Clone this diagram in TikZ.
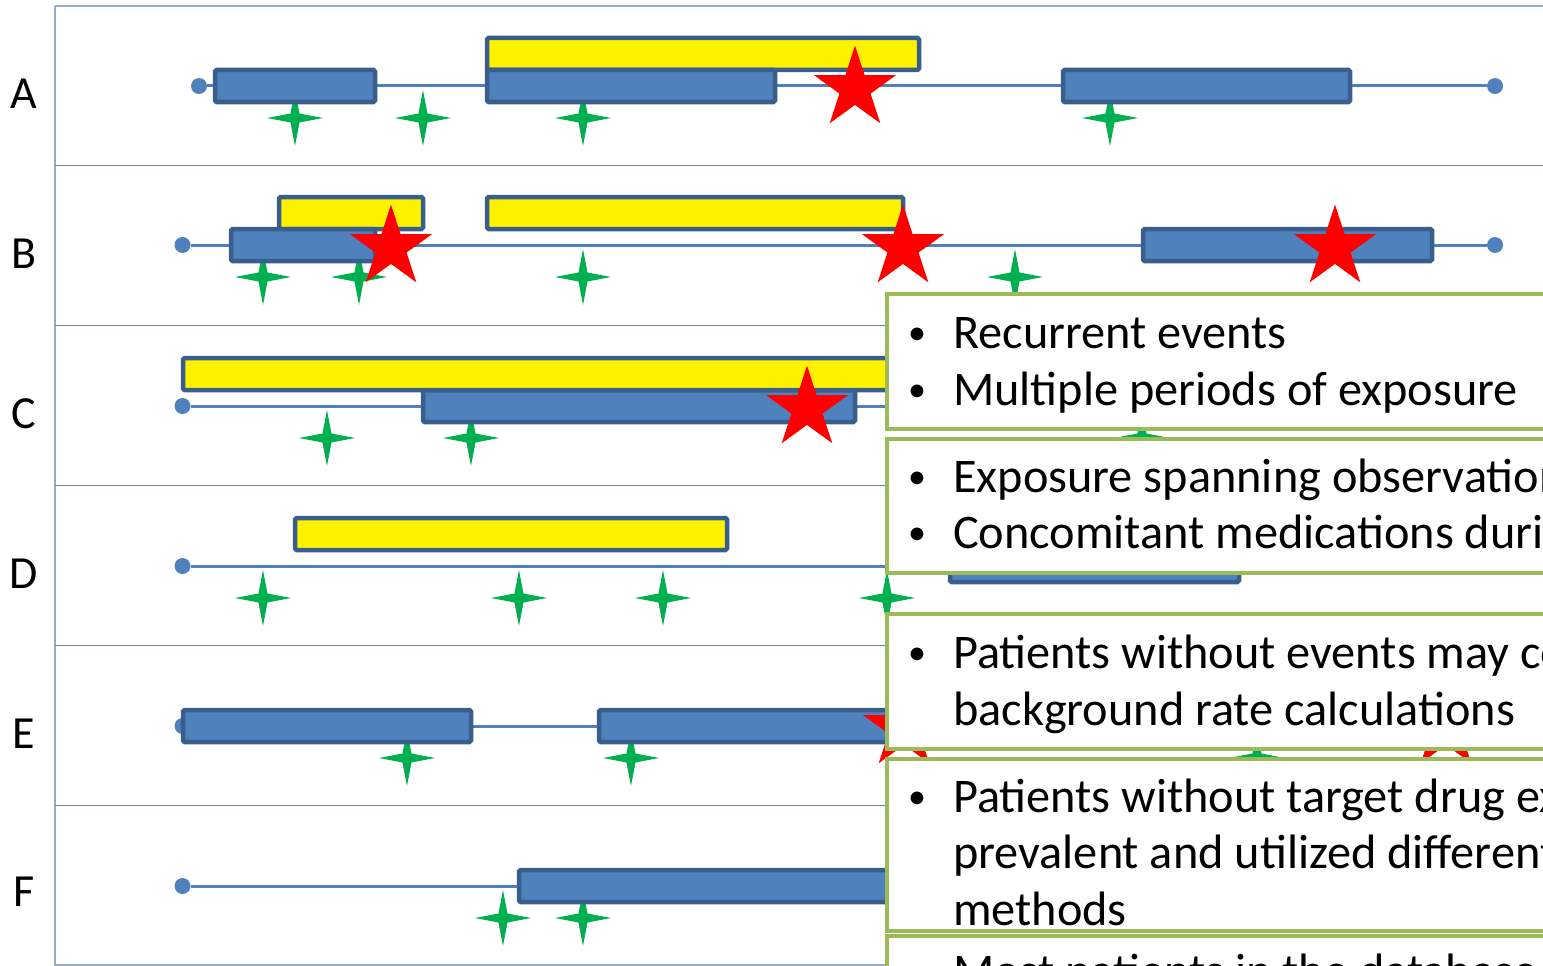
\documentclass[tikz,border=0pt]{standalone}
\usepackage{fontspec}
\setmainfont{Carlito}
\definecolor{gridlight}{HTML}{97ABC8}
\definecolor{griddark}{HTML}{6D87AA}
\definecolor{barfill}{HTML}{4F81BD}
\definecolor{barline}{HTML}{3A5E8C}
\definecolor{boxline}{HTML}{9BBB59}
\definecolor{evgreen}{HTML}{00B050}
\tikzset{
  gridouter/.style={draw=gridlight, line width=1.8pt},
  gridrow/.style={draw=griddark, line width=1.8pt},
  tl/.style={draw=barfill, line width=3pt},
  dot/.style={circle, fill=barfill, inner sep=0pt, minimum size=16pt},
  usebar/.style={fill=barfill, draw=barline, line width=4.5pt, rounded corners=1.5pt},
  drugbar/.style={fill=yellow, draw=barline, line width=4.5pt, rounded corners=1.5pt},
  note/.style={fill=white, draw=boxline, line width=4.5pt},
  txt/.style={anchor=base west, inner sep=0pt, font=\fontsize{48.3}{58}\selectfont},
  bul/.style={anchor=base west, inner sep=0pt, font=\fontsize{36}{40}\selectfont},
  lab/.style={anchor=base, inner sep=0pt, font=\fontsize{46}{50}\selectfont},
  redstar/.pic={\fill[red] (-90:43) -- (-54:16.4) -- (-18:43) -- (18:16.4) -- (54:43)
      -- (90:16.4) -- (126:43) -- (162:16.4) -- (198:43) -- (234:16.4) -- cycle;},
  greenstar/.pic={\fill[evgreen] (0,-28) -- (4.5,-4.5) -- (28,0) -- (4.5,4.5) -- (0,28)
      -- (-4.5,4.5) -- (-28,0) -- (-4.5,-4.5) -- cycle;}
}
\begin{document}
\begin{tikzpicture}[x=1pt,y=-1pt]
\useasboundingbox (0,0) rectangle (1543,966);
\clip (0,0) rectangle (1543,966);

% frame and row separators
\draw[gridouter] (55,6) -- (1543,6);
\draw[gridouter] (55,6) -- (55,966);
\foreach \yy in {165.5,325.5,485.5,645.5,805.5}
  \draw[gridrow] (55,\yy) -- (1543,\yy);
\draw[gridouter] (55,965) -- (1543,965);

% row labels
\node[lab] (labA) at (24,108) {A};
\node[lab] (labB) at (24,268) {B};
\node[lab] (labC) at (24,428) {C};
\node[lab] (labD) at (24,588) {D};
\node[lab] (labE) at (24,748) {E};
\node[lab] (labF) at (24,906) {F};

% row A
\begin{scope}[shift={(0,86)}]
  \node[dot] (a0) at (199,0) {};
  \node[dot] (a1) at (1495,0) {};
  \draw[tl] (a0) -- (a1);
  \foreach \sx in {295,423,583,1110} \pic at (\sx,32) {greenstar};
  \draw[drugbar] (487,-48) rectangle (919,-16);
  \draw[usebar] (215,-16) rectangle (375,16);
  \draw[usebar] (487,-16) rectangle (775,16);
  \draw[usebar] (1063,-16) rectangle (1350,16);
  \pic at (855,2.5) {redstar};
\end{scope}

% row B
\begin{scope}[shift={(0,245)}]
  \node[dot] (b0) at (182.5,0) {};
  \node[dot] (b1) at (1495,0) {};
  \draw[tl] (b0) -- (b1);
  \foreach \sx in {263,359,583,1015} \pic at (\sx,32) {greenstar};
  \draw[drugbar] (279,-48) rectangle (423,-16);
  \draw[drugbar] (487,-48) rectangle (903,-16);
  \draw[usebar] (231,-16) rectangle (375,16);
  \draw[usebar] (1143,-16) rectangle (1432,16);
  \foreach \sx in {391,903,1335} \pic at (\sx,2.5) {redstar};
\end{scope}

% row C
\begin{scope}[shift={(0,406)}]
  \node[dot] (c0) at (182.5,0) {};
  \node[dot] (c1) at (1495,0) {};
  \draw[tl] (c0) -- (c1);
  \foreach \sx in {327,471,1142} \pic at (\sx,32) {greenstar};
  \draw[usebar] (423,-16) rectangle (855,16);
  \draw[drugbar] (183,-48) rectangle (1200,-16);
  \pic at (807,2.5) {redstar};
\end{scope}

% row D
\begin{scope}[shift={(0,566)}]
  \node[dot] (d0) at (182.5,0) {};
  \node[dot] (d1) at (1495,0) {};
  \draw[tl] (d0) -- (d1);
  \foreach \sx in {263,519,663,887} \pic at (\sx,32) {greenstar};
  \draw[drugbar] (295,-48) rectangle (727,-16);
  \draw[usebar] (950,-16) rectangle (1239,16);
\end{scope}

% row E
\begin{scope}[shift={(0,726)}]
  \node[dot] (e0) at (182.5,0) {};
  \node[dot] (e1) at (1495,0) {};
  \draw[tl] (e0) -- (e1);
  \foreach \sx in {407,631,1257} \pic at (\sx,32) {greenstar};
  \draw[usebar] (183,-16) rectangle (471,16);
  \draw[usebar] (599,-16) rectangle (1050,16);
  \foreach \sx in {904,1446} \pic at (\sx,2.5) {redstar};
\end{scope}

% row F
\begin{scope}[shift={(0,886)}]
  \node[dot] (f0) at (182.5,0) {};
  \node[dot] (f1) at (1495,0) {};
  \draw[tl] (f0) -- (f1);
  \foreach \sx in {503,583} \pic at (\sx,32) {greenstar};
  \draw[usebar] (519,-16) rectangle (1100,16);
\end{scope}

% note boxes
\draw[note] (887,294) rectangle (1600,429);
\node[bul] (n1b1) at (908,344.5) {•};
\node[txt] (n1t1) at (953,348) {Recurrent events};
\node[bul] (n1b2) at (908,401.5) {•};
\node[txt] (n1t2) at (953,405) {Multiple periods of exposure};

\draw[note] (887,439) rectangle (1600,573);
\node[bul] (n2b1) at (908,488.5) {•};
\node[txt] (n2t1) at (953,492) {Exposure spanning observation period};
\node[bul] (n2b2) at (908,544.5) {•};
\node[txt] (n2t2) at (953,548) {Concomitant medications during exposure};

\draw[note] (887,614) rectangle (1600,749);
\node[bul] (n3b1) at (908,664.5) {•};
\node[txt] (n3t1) at (953,668) {Patients without events may contribute to};
\node[txt] (n3t2) at (953,725) {background rate calculations};

\draw[note] (887,759) rectangle (1600,931);
\node[bul] (n4b1) at (908,808.5) {•};
\node[txt] (n4t1) at (953,812) {Patients without target drug exposure are};
\node[txt] (n4t2) at (953,868) {prevalent and utilized different};
\node[txt] (n4t3) at (953,925) {methods};

\draw[note] (887,936) rectangle (1600,1100);
\node[bul] (n5b1) at (908,983.5) {•};
\node[txt] (n5t1) at (953,987) {Most patients in the database};
\end{tikzpicture}
\end{document}
